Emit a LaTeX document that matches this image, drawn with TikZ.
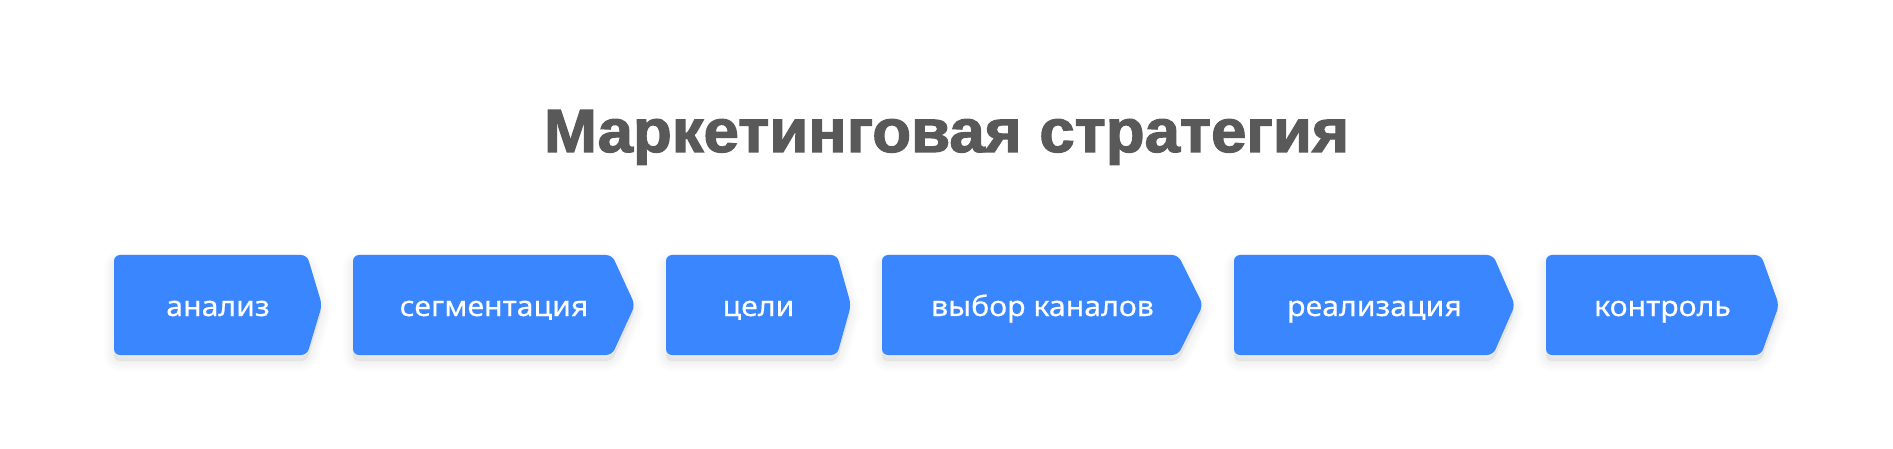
\documentclass[tikz,border=0pt]{standalone}
\usepackage{fontspec}
\setmainfont{Noto Sans}
\newfontfamily\labelfont[FakeBold=0.4]{Noto Sans}
\newfontfamily\titlefont[FakeBold=2]{Liberation Sans Bold}
\definecolor{boxblue}{HTML}{3A86FF}
\definecolor{titlegray}{HTML}{595959}
\tikzset{
  chevbox/.style={fill=boxblue, rounded corners=6pt},
  chevshadow/.style={draw=black, fill=black, line width=#1pt, draw opacity=0.009, fill opacity=0.009,
    line join=round, rounded corners=6pt, shift={(0,6)}},
  lbl/.style={text=white, font=\labelfont\fontsize{28}{30}\selectfont, inner sep=0pt, anchor=base},
  ttl/.style={text=titlegray, inner sep=0pt, anchor=base}
}
\newcommand\chev[5]{%
  \foreach \w in {2,5,8,11,14,17,20} {
    \path[chevshadow=\w] (#1,255) -- (#2,255) -- (#3,305) -- (#2,355) -- (#1,355) -- cycle;
  }
  \path[chevbox] (#1,255) -- (#2,255) -- (#3,305) -- (#2,355) -- (#1,355) -- cycle;
  \node[lbl] (#4) at ({(#1+#3)/2},316) {\scalebox{1.08}[1]{#5}};
}
\begin{document}
\begin{tikzpicture}[x=1pt,y=-1pt]
\useasboundingbox[fill=white] (0,0) rectangle (1893,449);
\node[ttl] (title) at (946.5,152) {\resizebox{805pt}{\height}{\titlefont\fontsize{61}{70}\selectfont Маркетинговая стратегия}};
\chev{114}{307}{322}{a}{анализ}
\chev{353}{612}{635}{b}{сегментация}
\chev{666}{837}{851}{c}{цели}
\chev{882}{1178}{1203}{d}{выбор каналов}
\chev{1234}{1493}{1515}{e}{реализация}
\chev{1546}{1761}{1779}{f}{контроль}
\end{tikzpicture}
\end{document}
